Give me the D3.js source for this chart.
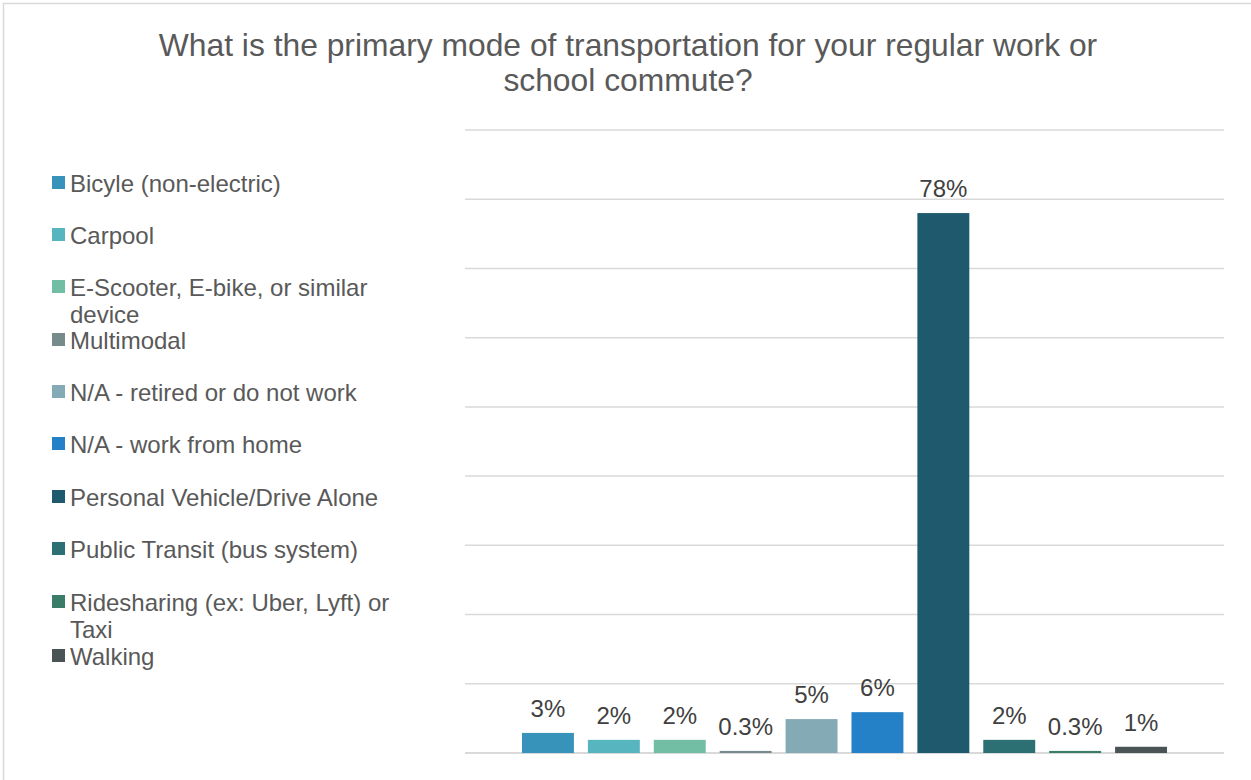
<!DOCTYPE html>
<html><head><meta charset="utf-8">
<script src="https://cdn.jsdelivr.net/npm/d3@7"></script>
<style>
html,body{margin:0;padding:0;background:#fff;}
text{font-family:"Liberation Sans",Arial,sans-serif;}
</style></head>
<body><svg id="c" width="1251" height="780"></svg>
<script>
const categories = ["Bicyle (non-electric)","Carpool","E-Scooter, E-bike, or similar device","Multimodal","N/A - retired or do not work","N/A - work from home","Personal Vehicle/Drive Alone","Public Transit (bus system)","Ridesharing (ex: Uber, Lyft) or Taxi","Walking"];
const values = [2.9, 1.9, 1.9, 0.3, 4.9, 5.9, 78, 1.9, 0.3, 0.9];
const labels = ["3%","2%","2%","0.3%","5%","6%","78%","2%","0.3%","1%"];
const colors = ["#3793b9","#57b5bf","#72bea5","#778a8c","#84abb5","#2581c7","#1f596d","#2c7073","#3a7c68","#4a5457"];
const legendLines = [["Bicyle (non-electric)"],["Carpool"],["E-Scooter, E-bike, or similar","device"],["Multimodal"],["N/A - retired or do not work"],["N/A - work from home"],["Personal Vehicle/Drive Alone"],["Public Transit (bus system)"],["Ridesharing (ex: Uber, Lyft) or","Taxi"],["Walking"]];
const yTicks = [0,10,20,30,40,50,60,70,80,90];
const titleLines = ["What is the primary mode of transportation for your regular work or","school commute?"];

const svg = d3.select("#c");
svg.append("rect").attr("x",3.5).attr("y",3.5).attr("width",1260).attr("height",790)
  .attr("fill","#fff").attr("stroke","#d9d9d9").attr("stroke-width",1.5);

svg.selectAll("text.title").data(titleLines).enter().append("text")
  .attr("class","title").attr("x",628).attr("y",(d,i)=>56+i*35)
  .attr("text-anchor","middle").attr("font-size",31.8).attr("fill","#595959").text(d=>d);

const y = d3.scaleLinear().domain([0,90]).range([753,130]);
const x = d3.scaleBand().domain(categories).range([515,1174]).paddingInner(0.212).paddingOuter(0.106);

const g = svg.append("g");
g.selectAll("line.grid").data(yTicks).enter().append("line")
  .attr("x1",465).attr("x2",1224).attr("y1",d=>y(d)).attr("y2",d=>y(d))
  .attr("stroke","#d9d9d9").attr("stroke-width",d=>d===0?2:1.5);

g.selectAll("rect.bar").data(categories).enter().append("rect")
  .attr("x",d=>x(d)).attr("width",x.bandwidth())
  .attr("y",(d,i)=>y(values[i])).attr("height",(d,i)=>y(0)-y(values[i]))
  .attr("fill",(d,i)=>colors[i]);

g.selectAll("text.lbl").data(categories).enter().append("text")
  .attr("x",d=>x(d)+x.bandwidth()/2).attr("y",(d,i)=>y(values[i])-16)
  .attr("text-anchor","middle").attr("font-size",24).attr("fill","#404040")
  .text((d,i)=>labels[i]);

const leg = svg.append("g");
const legY = [184,236,288,341,393,445,498,550,603,657];
categories.forEach((c,i)=>{
  leg.append("rect").attr("x",52).attr("y",legY[i]-8).attr("width",13).attr("height",13).attr("fill",colors[i]);
  legendLines[i].forEach((t,j)=>{
    leg.append("text").attr("x",70).attr("y",legY[i]+8+j*27)
      .attr("font-size",24).attr("fill","#595959").text(t);
  });
});
</script></body></html>
